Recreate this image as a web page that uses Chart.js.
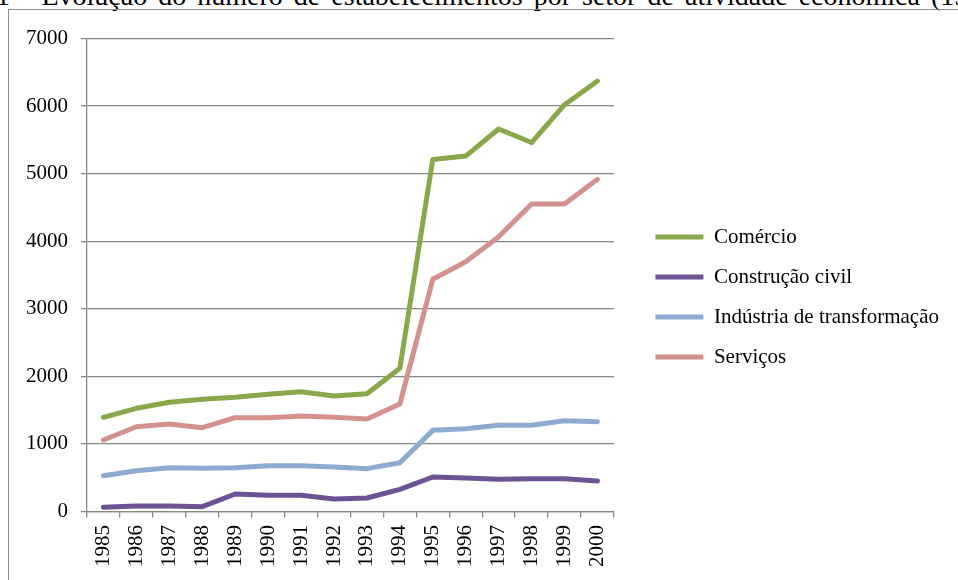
<!DOCTYPE html>
<html>
<head>
<meta charset="utf-8">
<script src="https://cdn.jsdelivr.net/npm/chart.js@4/dist/chart.umd.min.js"></script>
<style>
  html, body { margin: 0; padding: 0; width: 958px; height: 580px; overflow: hidden; background: #fff; }
  #title { position: absolute; left: -4px; top: -18.5px; white-space: nowrap; font-family: "Liberation Serif", "Times New Roman", serif; font-size: 28px; line-height: 28px; word-spacing: 4.05px; color: #000; }
  #frame { position: absolute; left: 8px; top: 9px; width: 980px; height: 600px; border-left: 1.5px solid #8c8c8c; border-top: 1.5px solid #8c8c8c; }
  #wrap { position: absolute; left: 0; top: 0; width: 958px; height: 580px; }
</style>
</head>
<body>
<div id="title">1 - Evolução do número de estabelecimentos por setor de atividade econômica (1985-2000)</div>
<div id="frame"></div>
<div id="wrap"><canvas id="c" width="958" height="580"></canvas></div>
<script>
const years = ["1985","1986","1987","1988","1989","1990","1991","1992","1993","1994","1995","1996","1997","1998","1999","2000"];
const comercio = [1394, 1527, 1616, 1660, 1690, 1734, 1773, 1709, 1744, 2119, 5210, 5260, 5660, 5460, 6020, 6370];
const construcao = [62, 81, 81, 71, 259, 239, 239, 185, 200, 328, 511, 496, 476, 486, 486, 451];
const industria = [530, 604, 648, 639, 648, 678, 678, 659, 634, 722, 1201, 1226, 1275, 1275, 1344, 1330];
const servicos = [1058, 1255, 1295, 1240, 1388, 1388, 1413, 1394, 1369, 1591, 3436, 3697, 4067, 4550, 4550, 4916];
const seriesNames = ["Comércio", "Construção civil", "Indústria de transformação", "Serviços"];
const yTicks = [0, 1000, 2000, 3000, 4000, 5000, 6000, 7000];

const colors = ["#89a84b", "#6c5494", "#8faad1", "#d4928f"];
const fontSpec = { family: "'Liberation Serif', 'Times New Roman', serif", size: 21 };

function ds(label, data, color) {
  return {
    label, data,
    borderColor: color, backgroundColor: color,
    borderWidth: 5, pointRadius: 0, pointHoverRadius: 0,
    tension: 0, fill: false,
    borderCapStyle: 'round', borderJoinStyle: 'round'
  };
}

new Chart(document.getElementById('c'), {
  type: 'line',
  data: {
    labels: years,
    datasets: [
      ds(seriesNames[0], comercio, colors[0]),
      ds(seriesNames[1], construcao, colors[1]),
      ds(seriesNames[2], industria, colors[2]),
      ds(seriesNames[3], servicos, colors[3])
    ]
  },
  options: {
    responsive: false,
    animation: false,
    devicePixelRatio: 1,
    layout: { padding: { top: 14, bottom: 0, left: 0, right: 9 } },
    plugins: {
      title: { display: true, text: '', font: { size: 1, lineHeight: 1 }, padding: { top: 23.5, bottom: 0 } },
      tooltip: { enabled: false },
      legend: {
        display: true,
        position: 'right',
        align: 'center',
        maxWidth: 400,
        labels: {
          usePointStyle: true,
          pointStyle: 'line',
          pointStyleWidth: 48,
          padding: 19,
          color: '#000',
          font: fontSpec
        }
      }
    },
    scales: {
      x: {
        type: 'category',
        offset: true,
        grid: { display: true, offset: true, drawOnChartArea: false, drawTicks: true, tickLength: 6, color: '#878787', lineWidth: 1.3 },
        border: { display: true, color: '#878787', width: 1.3 },
        ticks: { autoSkip: false, minRotation: 90, maxRotation: 90, padding: 7.5, color: '#000', font: fontSpec },
        afterFit(s) { s.height = 68.5; }
      },
      y: {
        min: 0, max: 7000,
        afterBuildTicks(s) { s.ticks = yTicks.map(v => ({ value: v })); },
        grid: { display: true, drawOnChartArea: true, drawTicks: true, tickLength: 6, color: '#878787', lineWidth: 1.3 },
        border: { display: true, color: '#878787', width: 1.3 },
        ticks: { padding: 13, color: '#000', font: fontSpec, callback: (v) => String(v) },
        afterFit(s) { s.width = 87; }
      },
      spacer: {
        type: 'linear',
        position: 'right',
        display: true,
        grid: { display: false, drawTicks: false },
        border: { display: false },
        ticks: { display: false },
        afterFit(s) { s.width = 22.5; }
      }
    }
  }
});
</script>
</body>
</html>
